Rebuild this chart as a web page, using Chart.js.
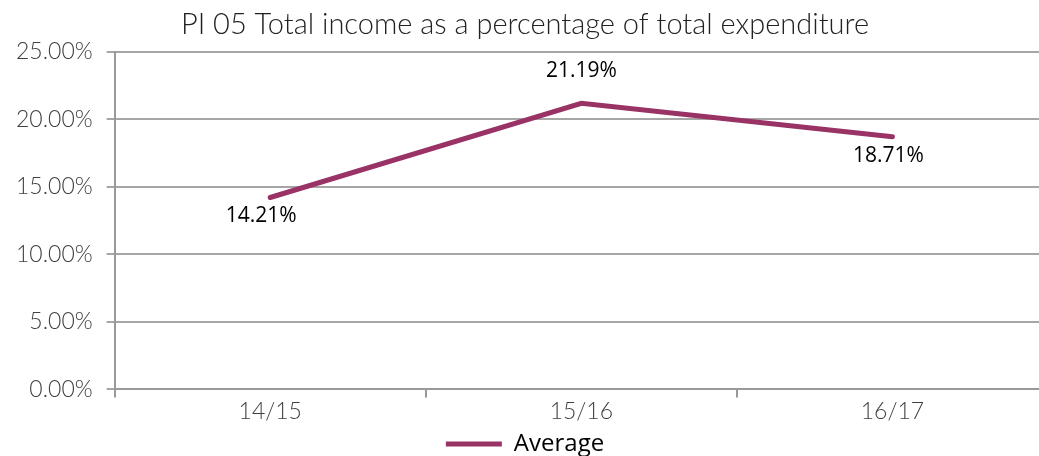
<!DOCTYPE html>
<html>
<head>
<meta charset="utf-8">
<script src="https://cdn.jsdelivr.net/npm/chart.js@4.4.0/dist/chart.umd.min.js"></script>
<style>
  html, body { margin: 0; padding: 0; background: #fff; overflow: hidden; }
  #wrap { width: 1048px; height: 456px; }
</style>
</head>
<body>
<div id="wrap"><canvas id="myChart"></canvas></div>
<script>
var years = ['14/15', '15/16', '16/17'];
var average = [14.21, 21.19, 18.71];
var yTicks = [0, 5, 10, 15, 20, 25];

// value labels under / over each point
var valueLabels = {
    id: 'valueLabels',
    afterDatasetsDraw: function (chart) {
        var ctx = chart.ctx;
        var meta = chart.getDatasetMeta(0);
        var place = ['below', 'above', 'below'];
        var shiftX = [-9, 0, -4];
        ctx.save();
        ctx.font = '21px "Open Sans", sans-serif';
        ctx.fillStyle = '#000';
        ctx.textAlign = 'center';
        ctx.textBaseline = 'middle';
        meta.data.forEach(function (pt, i) {
            var y = place[i] == 'above' ? pt.y - 32 : pt.y + 19;
            ctx.fillText(average[i].toFixed(2) + '%', pt.x + shiftX[i], y);
        });
        ctx.restore();
    }
};

var ctx = document.getElementById('myChart').getContext('2d');
var myChart = new Chart(ctx, {
    type: 'line',
    data: {
        labels: years,
        datasets: [{
            label: 'Average',
            data: average,
            borderColor: '#993366',
            backgroundColor: '#993366',
            borderWidth: 5,
            pointRadius: 0,
            borderCapStyle: 'round',
            tension: 0
        }]
    },
    options: {
        responsive: true,
        maintainAspectRatio: false,
        animation: false,
        layout: { padding: { top: 7, left: 2, right: 0, bottom: -10 } },
        plugins: {
            title: {
                display: true,
                text: 'PI 05 Total income as a percentage of total expenditure',
                color: '#222',
                font: { family: 'Lato', size: 29, weight: '300' },
                padding: { top: 0, bottom: 10 }
            },
            legend: {
                position: 'bottom',
                labels: {
                    color: '#000',
                    font: { family: '"Open Sans", sans-serif', size: 24 },
                    boxWidth: 56,
                    boxHeight: 5,
                    padding: 7,
                    generateLabels: function (chart) {
                        var items = Chart.defaults.plugins.legend.labels.generateLabels(chart);
                        items.forEach(function (it) { it.lineWidth = 0; });
                        return items;
                    }
                }
            },
            tooltip: { enabled: false }
        },
        scales: {
            x: {
                offset: true,
                grid: {
                    offset: true,
                    drawOnChartArea: false,
                    color: '#999',
                    lineWidth: 2,
                    tickLength: 8
                },
                border: { color: '#999', width: 2 },
                ticks: {
                    color: '#404040',
                    font: { family: 'Lato', size: 23, weight: '300' },
                    padding: 0
                }
            },
            y: {
                min: 0,
                max: 25,
                afterBuildTicks: function (axis) {
                    axis.ticks = yTicks.map(function (v) { return { value: v }; });
                },
                grid: { color: '#a6a6a6', lineWidth: 2, tickLength: 8 },
                border: { color: '#999', width: 2 },
                ticks: {
                    color: '#404040',
                    font: { family: 'Lato', size: 23, weight: '300' },
                    padding: 14,
                    callback: function (v) { return v.toFixed(2) + '%'; }
                }
            }
        }
    },
    plugins: [valueLabels]
});
</script>
</body>
</html>
